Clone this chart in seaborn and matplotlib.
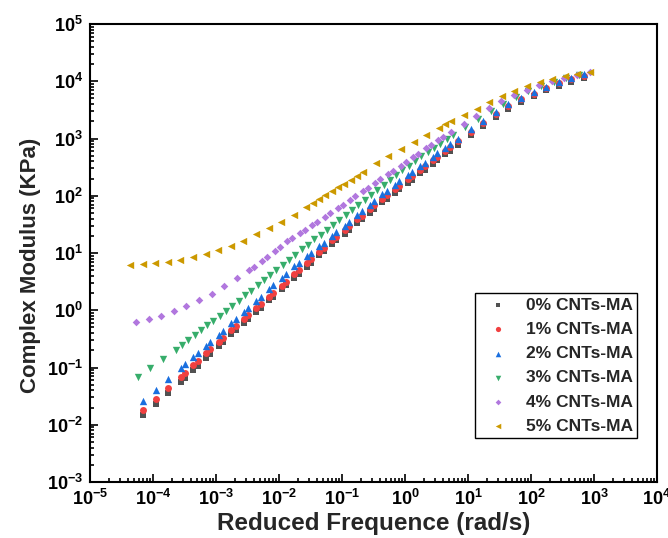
import numpy as np
import pandas as pd
import matplotlib
matplotlib.use("Agg")
import matplotlib.pyplot as plt
import seaborn as sns
from matplotlib.ticker import LogLocator, FuncFormatter, NullFormatter

# ---------------- data ----------------
# reduced frequency grid shared by 0 %, 1 % and 2 % CNTs-MA (rad/s)
freq_grb = [6.92e-5, 1.10e-4, 1.74e-4, 2.75e-4, 3.24e-4, 4.37e-4, 5.13e-4, 6.92e-4, 8.13e-4,
            1.10e-3, 1.29e-3, 1.74e-3, 2.04e-3, 2.75e-3, 3.24e-3, 4.37e-3, 5.13e-3, 6.92e-3,
            8.13e-3, 1.10e-2, 1.29e-2, 1.74e-2, 2.04e-2, 2.75e-2, 3.24e-2, 4.37e-2, 5.13e-2,
            6.92e-2, 8.13e-2, 0.110, 0.129, 0.174, 0.204, 0.275, 0.324, 0.437, 0.513, 0.692,
            0.813, 1.10, 1.29, 1.74, 2.04, 2.75, 3.24, 4.37, 5.13, 6.92, 11.0, 17.4, 27.5,
            43.7, 69.2, 110, 174, 275, 437, 692]
mod_0 = [0.0148, 0.0231, 0.0361, 0.0562, 0.0665, 0.0910, 0.108, 0.147, 0.174, 0.238, 0.281,
         0.385, 0.450, 0.603, 0.705, 0.944, 1.104, 1.483, 1.734, 2.323, 2.723, 3.656, 4.285,
         5.754, 6.745, 9.078, 10.64, 14.3, 16.6, 21.8, 25.3, 33.2, 38.5, 50.5, 58.5, 76.7,
         88.1, 113, 130, 167, 191, 245, 281, 361, 413, 531, 608, 782, 1151, 1652, 2333,
         3296, 4305, 5495, 6998, 8395, 9817, 11480]
mod_1 = [0.0178, 0.0277, 0.0434, 0.0676, 0.0800, 0.109, 0.129, 0.177, 0.209, 0.276, 0.327,
         0.447, 0.522, 0.700, 0.818, 1.096, 1.282, 1.722, 2.014, 2.698, 3.162, 4.246, 4.977,
         6.683, 7.834, 10.54, 12.36, 16.60, 19.32, 25.35, 29.38, 38.55, 44.67, 58.6, 67.9,
         89.1, 102.3, 131.5, 150.7, 193.6, 221.8, 284.4, 325.8, 418.8, 479.7, 616.6, 706.3,
         887, 1306, 1875, 2649, 3741, 4887, 6026, 7674, 9204, 10765, 12589]
mod_2 = [0.0255, 0.0399, 0.0624, 0.0977, 0.114, 0.153, 0.179, 0.240, 0.281, 0.376, 0.441,
         0.590, 0.692, 0.927, 1.086, 1.455, 1.710, 2.328, 2.742, 3.724, 4.325, 5.916, 6.808,
         8.831, 10.16, 13.21, 15.21, 19.72, 22.86, 29.99, 34.75, 45.81, 53.09, 69.98, 81.10,
         106.7, 123.0, 156.0, 177.8, 227.5, 259.4, 331.1, 377.6, 482.0, 548.3, 695.0, 788.9,
         1000, 1439, 2046, 2864, 4009, 5093, 6397, 8054, 9550, 11298, 13397]

freq_3 = [5.75e-5, 9.12e-5, 1.45e-4, 2.29e-4, 2.88e-4, 3.63e-4, 4.57e-4, 5.75e-4, 7.24e-4,
          9.12e-4, 1.15e-3, 1.45e-3, 1.82e-3, 2.29e-3, 2.88e-3, 3.63e-3, 4.57e-3, 5.75e-3,
          7.24e-3, 9.12e-3, 1.15e-2, 1.45e-2, 1.82e-2, 2.29e-2, 2.88e-2, 3.63e-2, 4.57e-2,
          5.75e-2, 7.24e-2, 9.12e-2, 0.115, 0.145, 0.182, 0.229, 0.288, 0.363, 0.457, 0.575,
          0.724, 0.912, 1.15, 1.45, 1.82, 2.29, 2.88, 3.63, 4.57, 5.75, 9.12, 14.5, 22.9,
          36.3, 57.5, 91.2, 145, 229, 363, 575]
mod_3 = [0.0693, 0.0995, 0.143, 0.205, 0.249, 0.302, 0.367, 0.447, 0.543, 0.661, 0.807,
         0.986, 1.205, 1.476, 1.816, 2.208, 2.716, 3.342, 4.111, 5.047, 6.209, 7.638, 9.397,
         11.53, 14.06, 17.26, 21.04, 25.64, 31.26, 38.19, 46.56, 56.75, 69.18, 84.33, 102.8,
         125.3, 152.8, 186.2, 227.0, 276.7, 337.3, 412.1, 492.0, 587.5, 693.4, 816.6, 963.8,
         1135, 1581, 2198, 3020, 4036, 5395, 6792, 8147, 9750, 11298, 12735]

freq_4 = [5.37e-5, 8.51e-5, 1.35e-4, 2.14e-4, 3.39e-4, 5.37e-4, 8.51e-4, 1.35e-3, 2.14e-3,
          3.39e-3, 4.07e-3, 5.37e-3, 6.46e-3, 8.51e-3, 1.02e-2, 1.35e-2, 1.62e-2, 2.14e-2,
          2.57e-2, 3.39e-2, 4.07e-2, 5.37e-2, 6.46e-2, 8.51e-2, 0.102, 0.135, 0.162, 0.214,
          0.257, 0.339, 0.407, 0.537, 0.646, 0.851, 1.02, 1.35, 1.62, 2.14, 2.57, 3.39, 4.07,
          5.37, 8.51, 13.5, 21.4, 33.9, 53.7, 85.1, 135, 214, 339, 537, 851]
mod_4 = [0.617, 0.702, 0.800, 0.971, 1.180, 1.521, 1.959, 2.655, 3.597, 5.058, 5.794, 7.112,
         8.356, 10.67, 12.53, 15.96, 18.20, 22.13, 25.23, 30.76, 35.16, 42.95, 49.20, 60.39,
         69.34, 85.51, 98.17, 121.1, 139.0, 169.8, 194.1, 237.7, 272.9, 336.5, 386.4, 476.4,
         547.0, 671.4, 770.9, 946.2, 1079, 1315, 1820, 2483, 3365, 4457, 5794, 7079, 8551,
         9954, 11455, 12764, 14223]

freq_5 = [4.32e-5, 6.84e-5, 1.08e-4, 1.72e-4, 2.72e-4, 4.32e-4, 6.84e-4, 1.08e-3, 1.72e-3,
          2.72e-3, 4.32e-3, 6.84e-3, 1.08e-2, 1.72e-2, 2.72e-2, 3.43e-2, 4.32e-2, 5.43e-2,
          6.84e-2, 8.61e-2, 0.108, 0.137, 0.172, 0.216, 0.343, 0.543, 0.861, 1.37, 2.16, 3.43,
          4.32, 5.43, 8.61, 13.7, 21.6, 34.3, 54.3, 86.1, 137, 216, 343, 543, 861]
mod_5 = [6.17, 6.34, 6.67, 7.03, 7.60, 8.45, 9.66, 11.17, 13.34, 16.52, 21.09, 26.79, 34.83,
         46.88, 62.66, 73.28, 86.10, 101.2, 118.9, 139.6, 162.9, 189.7, 221.8, 263.0, 366.4,
         494.3, 642.7, 861.0, 1170, 1549, 1758, 1995, 2600, 3334, 4416, 5598, 6823, 8260,
         9661, 11015, 12246, 13397, 14454]

series_labels = ["0% CNTs-MA", "1% CNTs-MA", "2% CNTs-MA",
                 "3% CNTs-MA", "4% CNTs-MA", "5% CNTs-MA"]
x_ticks_exp = [-5, -4, -3, -2, -1, 0, 1, 2, 3, 4]
y_ticks_exp = [-3, -2, -1, 0, 1, 2, 3, 4, 5]

# ---------------- styling ----------------
colors = ["#515151", "#F14040", "#1A6FDF", "#37AD6B", "#B177DE", "#CC9900"]
markers = ["s", "o", "^", "v", "D", "<"]
sizes = [20, 25, 28, 28, 15, 28]

sns.set_style("ticks")
plt.rcParams['font.family'] = ['Liberation Sans', 'DejaVu Sans']
plt.rcParams['font.weight'] = 'bold'
plt.rcParams['mathtext.fontset'] = 'custom'
plt.rcParams['mathtext.rm'] = 'Liberation Sans:bold'
plt.rcParams['mathtext.bf'] = 'Liberation Sans:bold'
plt.rcParams['mathtext.it'] = 'Liberation Sans:bold'

freqs = [freq_grb, freq_grb, freq_grb, freq_3, freq_4, freq_5]
mods = [mod_0, mod_1, mod_2, mod_3, mod_4, mod_5]
frames = [pd.DataFrame({"freq": f, "modulus": m, "series": lab})
          for lab, f, m in zip(series_labels, freqs, mods)]
df = pd.concat(frames, ignore_index=True)

fig = plt.figure(figsize=(6.68, 5.38), dpi=100)
ax = fig.add_axes([90 / 668, 1 - 482 / 538, 567 / 668, 458 / 538])

for i, lab in enumerate(series_labels):
    sub = df[df["series"] == lab]
    sns.scatterplot(data=sub, x="freq", y="modulus", marker=markers[i],
                    color=colors[i], s=sizes[i], linewidth=0, label=lab,
                    ax=ax, legend=False)

ax.set_xscale("log")
ax.set_yscale("log")
ax.set_xlim(10.0 ** x_ticks_exp[0], 10.0 ** x_ticks_exp[-1])
ax.set_ylim(10.0 ** y_ticks_exp[0], 10.0 ** y_ticks_exp[-1])
ax.set_xticks([10.0 ** e for e in x_ticks_exp])
ax.set_yticks([10.0 ** e for e in y_ticks_exp])
ax.xaxis.set_minor_locator(LogLocator(base=10, subs=np.arange(2, 10), numticks=30))
ax.yaxis.set_minor_locator(LogLocator(base=10, subs=np.arange(2, 10), numticks=30))
ax.xaxis.set_minor_formatter(NullFormatter())
ax.yaxis.set_minor_formatter(NullFormatter())
fmt = FuncFormatter(lambda v, p: r"$\mathbf{10^{%d}}$" % int(round(np.log10(v))))
ax.xaxis.set_major_formatter(fmt)
ax.yaxis.set_major_formatter(fmt)

ax.tick_params(which="both", direction="in", top=False, right=False,
               width=1.2, colors="black")
ax.tick_params(which="major", length=6, labelsize=13, pad=5)
ax.tick_params(which="minor", length=3)
for sp in ax.spines.values():
    sp.set_linewidth(1.5)
    sp.set_color("black")

ax.set_xlabel("Reduced Frequence (rad/s)", fontsize=17.5, fontweight="bold", labelpad=2)
ax.set_ylabel("Complex Modulus (KPa)", fontsize=16, fontweight="bold")
ax.yaxis.set_label_coords(-0.087, 0.474)

leg = ax.legend(loc="lower right", bbox_to_anchor=(0.965, 0.096), borderaxespad=0,
                frameon=True, fancybox=False, edgecolor="black", framealpha=1,
                prop={"weight": "bold", "size": 12.5}, handlelength=2.15,
                handletextpad=0.55, borderpad=0.25, labelspacing=0.52,
                markerscale=0.75, scatterpoints=1)
leg.get_frame().set_linewidth(1.0)

fig.savefig("out.png", dpi=100)
